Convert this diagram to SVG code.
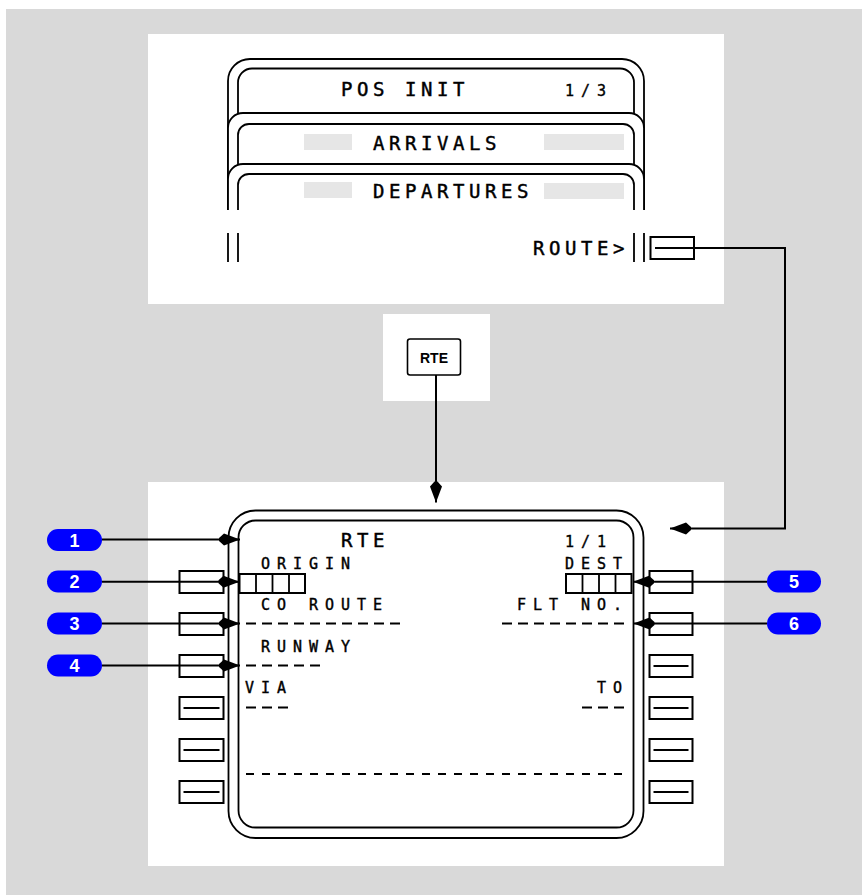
<svg xmlns="http://www.w3.org/2000/svg" width="862" height="895" viewBox="0 0 862 895">
<style>
.ln{fill:none;stroke:#000;stroke-width:1.8}
.card{fill:#fff;stroke:#000;stroke-width:1.8}
.btn{fill:#fff;stroke:#000;stroke-width:2}
.box{fill:none;stroke:#000;stroke-width:2}
.dash{stroke:#000;stroke-width:2;stroke-dasharray:10 6;fill:none}
.con{fill:none;stroke:#000;stroke-width:2}
.big{font-family:"DejaVu Sans Mono","Liberation Mono",monospace;font-size:19px;letter-spacing:4.56px;fill:#000;stroke:#000;stroke-width:0.45}
.sm{font-family:"DejaVu Sans Mono","Liberation Mono",monospace;font-size:15px;letter-spacing:6.97px;fill:#000;stroke:#000;stroke-width:0.4}
.badge{fill:#0000ff}
.bt{font-family:"Liberation Sans",Arial,sans-serif;font-weight:bold;font-size:18px;fill:#fff;text-anchor:middle}
.key{font-family:"Liberation Sans",Arial,sans-serif;font-weight:bold;font-size:14px;fill:#000;text-anchor:middle}
.shade{fill:#e6e6e6}
</style>
<defs>
<marker id="ah" viewBox="-22 -7 23 14" refX="0" refY="0" markerWidth="23" markerHeight="14" markerUnits="userSpaceOnUse" orient="auto">
<path d="M0,0 L-16,-6 L-21,-1.5 L-21,1.5 L-16,6 Z" fill="#000"/>
</marker>
</defs>
<rect x="0" y="0" width="862" height="895" fill="#fff"/>
<rect x="6" y="9" width="856" height="886" fill="#d9d9d9"/>
<rect x="148" y="34" width="576" height="270" fill="#fff"/>
<rect x="383" y="314" width="107" height="87" fill="#fff"/>
<rect x="148" y="482" width="576" height="384" fill="#fff"/>

<g id="pos-init-stack">
<path class="card" d="M228,210 V81 A22,22 0 0 1 250,59 H622 A22,22 0 0 1 644,81 V210"/>
<path class="ln" d="M238,210 V82.5 A14,14 0 0 1 252,68.5 H620 A14,14 0 0 1 634,82.5 V210"/>
<text class="big" x="341" y="96">POS INIT</text>
<text class="sm" x="565" y="96">1/3</text>
<path class="card" d="M228,210 V128 A15,15 0 0 1 243,113 H629 A15,15 0 0 1 644,128 V210"/>
<path class="ln" d="M238,210 V135 A11,11 0 0 1 249,124 H623 A11,11 0 0 1 634,135 V210"/>
<rect class="shade" x="304" y="134" width="48" height="16"/>
<rect class="shade" x="544" y="134" width="80" height="16"/>
<text class="big" x="373" y="149.5">ARRIVALS</text>
<path class="card" d="M228,210 V179 A15,15 0 0 1 243,164 H629 A15,15 0 0 1 644,179 V210"/>
<path class="ln" d="M238,210 V185 A11,11 0 0 1 249,174 H623 A11,11 0 0 1 634,185 V210"/>
<rect class="shade" x="304" y="182" width="48" height="16"/>
<rect class="shade" x="544" y="183" width="80" height="16"/>
<text class="big" x="373" y="198">DEPARTURES</text>
<path class="ln" d="M228,233 V262 M238,233 V262 M634,233 V262 M644,233 V262"/>
<text class="big" x="533" y="255">ROUTE&gt;</text>
</g>
<g id="route-key">
<rect class="btn" x="650.5" y="237" width="43.5" height="22"/>
</g>

<g id="rte-key">
<rect x="407.5" y="339" width="53" height="36" rx="2.5" fill="#fff" stroke="#000" stroke-width="1.6"/>
<text class="key" x="434" y="362.5">RTE</text>
</g>

<g id="rte-page">
<rect class="ln" x="228.5" y="510.5" width="415" height="327.5" rx="27"/>
<rect class="ln" x="238.5" y="520.5" width="395" height="307" rx="17"/>
<text class="big" x="341" y="547">RTE</text>
<text class="sm" x="565" y="547">1/1</text>
<text class="sm" x="261" y="568.5">ORIGIN</text>
<text class="sm" x="565" y="568.5">DEST</text>
<rect class="box" x="239.5" y="574" width="65.5" height="19"/>
<path class="ln" d="M256,574 V593 M272.5,574 V593 M289,574 V593"/>
<rect class="box" x="566" y="574" width="65.5" height="19"/>
<path class="ln" d="M582.5,574 V593 M599,574 V593 M615.5,574 V593"/>
<text class="sm" x="261" y="609.5">CO ROUTE</text>
<text class="sm" x="517" y="609.5">FLT NO.</text>
<path class="dash" d="M246,623.5 H400"/>
<path class="dash" d="M502,623.5 H624"/>
<text class="sm" x="261" y="651.5">RUNWAY</text>
<path class="dash" d="M246,665.5 H320"/>
<text class="sm" x="245" y="693">VIA</text>
<text class="sm" x="597" y="693">TO</text>
<path class="dash" d="M246,707.5 H288"/>
<path class="dash" d="M582,707.5 H624"/>
<path class="dash" style="stroke-dasharray:8 8" d="M246,774 H622"/>
</g>

<g id="lsk-left">
<rect class="btn" x="179.5" y="571" width="44" height="22"/>
<rect class="btn" x="179.5" y="613" width="44" height="22"/>
<rect class="btn" x="179.5" y="655" width="44" height="22"/>
<rect class="btn" x="179.5" y="697" width="44" height="22"/>
<rect class="btn" x="179.5" y="739" width="44" height="22"/>
<rect class="btn" x="179.5" y="781" width="44" height="22"/>
<path class="con" d="M183.5,708 H219.5 M183.5,750 H219.5 M183.5,792 H219.5"/>
</g>
<g id="lsk-right">
<rect class="btn" x="649.5" y="571" width="43" height="22"/>
<rect class="btn" x="649.5" y="613" width="43" height="22"/>
<rect class="btn" x="649.5" y="655" width="43" height="22"/>
<rect class="btn" x="649.5" y="697" width="43" height="22"/>
<rect class="btn" x="649.5" y="739" width="43" height="22"/>
<rect class="btn" x="649.5" y="781" width="43" height="22"/>
<path class="con" d="M653.5,666 H688.5 M653.5,708 H688.5 M653.5,750 H688.5 M653.5,792 H688.5"/>
</g>

<g id="connectors">
<path class="con" d="M655,248 H785 V528.5 H670" marker-end="url(#ah)"/>
<path class="con" d="M436,375 V502.5" marker-end="url(#ah)"/>
<path class="con" d="M102,539.5 H240" marker-end="url(#ah)"/>
<path class="con" d="M102,581.7 H239.5" marker-end="url(#ah)"/>
<path class="con" d="M102,623.5 H240" marker-end="url(#ah)"/>
<path class="con" d="M102,665.5 H240" marker-end="url(#ah)"/>
<path class="con" d="M767,581.7 H633" marker-end="url(#ah)"/>
<path class="con" d="M767,623.5 H633.5" marker-end="url(#ah)"/>
</g>

<g id="badge-1"><rect class="badge" x="47" y="529" width="55" height="22" rx="11"/><text class="bt" x="74.5" y="546.5">1</text></g>
<g id="badge-2"><rect class="badge" x="47" y="570.5" width="55" height="22" rx="11"/><text class="bt" x="74.5" y="588">2</text></g>
<g id="badge-3"><rect class="badge" x="47" y="612.5" width="55" height="22" rx="11"/><text class="bt" x="74.5" y="630">3</text></g>
<g id="badge-4"><rect class="badge" x="47" y="654.5" width="55" height="22" rx="11"/><text class="bt" x="74.5" y="672">4</text></g>
<g id="badge-5"><rect class="badge" x="767" y="570.5" width="54" height="22" rx="11"/><text class="bt" x="794" y="588">5</text></g>
<g id="badge-6"><rect class="badge" x="767" y="612.5" width="54" height="22" rx="11"/><text class="bt" x="794" y="630">6</text></g>
</svg>
